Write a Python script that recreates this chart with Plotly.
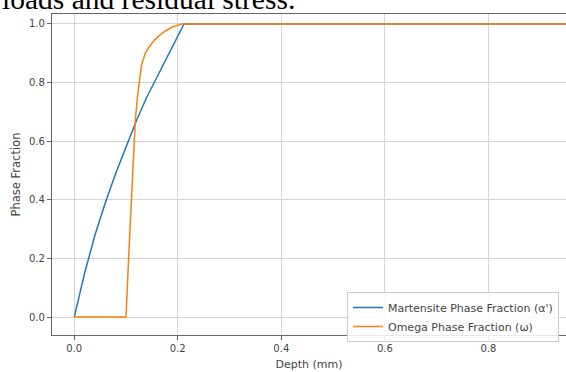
import plotly.graph_objects as go

# Phase fraction profiles versus depth below the surface (mm)
martensite_depth = [0.0, 0.02, 0.04, 0.06, 0.08, 0.10, 0.12, 0.14, 0.16, 0.18, 0.20, 0.212, 1.0]
martensite_frac = [0.0, 0.15, 0.28, 0.39, 0.49, 0.58, 0.67, 0.75, 0.82, 0.89, 0.955, 1.0, 1.0]

omega_depth = [0.0, 0.10, 0.105, 0.11, 0.115, 0.118, 0.122, 0.125, 0.13, 0.137, 0.144,
               0.155, 0.165, 0.176, 0.19, 0.208, 1.0]
omega_frac = [0.0, 0.0, 0.2, 0.4, 0.57, 0.672, 0.75, 0.80, 0.86, 0.90, 0.92,
              0.945, 0.962, 0.976, 0.99, 1.0, 1.0]

x_ticks = [0.0, 0.2, 0.4, 0.6, 0.8]
y_ticks = [0.0, 0.2, 0.4, 0.6, 0.8, 1.0]

FONT = "DejaVu Sans"
TEXT_COLOR = "#444444"

fig = go.Figure()
fig.add_trace(go.Scatter(
    x=martensite_depth, y=martensite_frac, mode="lines",
    name="Martensite Phase Fraction (α')",
    line=dict(color="#1f77b4", width=1.5),
))
fig.add_trace(go.Scatter(
    x=omega_depth, y=omega_frac, mode="lines",
    name="Omega Phase Fraction (ω)",
    line=dict(color="#ff7f0e", width=1.5),
))

axis_common = dict(
    showgrid=True, gridcolor="#d4d4d4", gridwidth=1,
    zeroline=False, showline=True, linecolor="#666666", linewidth=1.3,
    ticks="outside", ticklen=4, tickwidth=1, tickcolor="#666666",
    tickfont=dict(family=FONT, size=10, color=TEXT_COLOR),
)

fig.update_xaxes(
    range=[-0.043, 0.95], tickvals=x_ticks, ticktext=[f"{v:.1f}" for v in x_ticks],
    mirror=True,
    title=dict(text="Depth (mm)", font=dict(family=FONT, size=11, color=TEXT_COLOR), standoff=7),
    **axis_common,
)
fig.update_yaxes(
    range=[-0.061, 1.034], tickvals=y_ticks, ticktext=[f"{v:.1f}" for v in y_ticks],
    mirror=False,
    title=dict(text="Phase Fraction", font=dict(family=FONT, size=11.5, color=TEXT_COLOR), standoff=5),
    **axis_common,
)

# Caption line of the surrounding page, partially above the figure
fig.add_annotation(
    text="loads and residual stress.", xref="paper", yref="paper",
    x=-52 / 514, y=1.0 - 3 / 321, xanchor="left", yanchor="bottom",
    showarrow=False, font=dict(family="Liberation Serif", size=29.5, color="#000000"),
)

fig.update_layout(
    width=566, height=372,
    margin=dict(l=52, r=0, t=14, b=37),
    paper_bgcolor="white", plot_bgcolor="white",
    showlegend=True,
    legend=dict(
        x=(347 - 52) / 514, y=(335 - 292) / 321, xanchor="left", yanchor="top",
        bgcolor="rgba(255,255,255,0.85)", bordercolor="#cccccc", borderwidth=1,
        font=dict(family=FONT, size=11, color=TEXT_COLOR),
        itemwidth=30, tracegroupgap=0,
    ),
)

fig.write_html("out.html")
